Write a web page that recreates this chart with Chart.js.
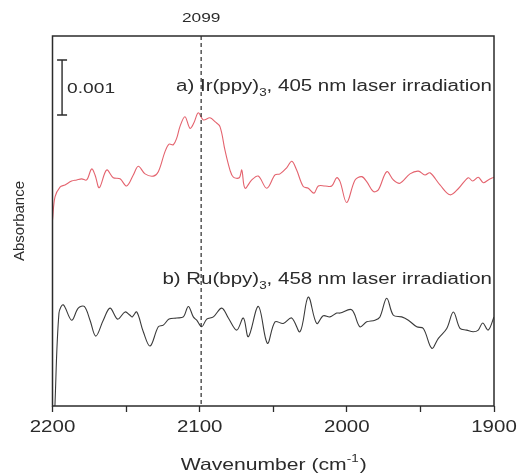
<!DOCTYPE html>
<html>
<head>
<meta charset="utf-8">
<script src="https://cdn.jsdelivr.net/npm/chart.js@4.4.0/dist/chart.umd.min.js"></script>
<style>
  html, body { margin: 0; padding: 0; background: #fff; }
  #wrap { width: 518px; height: 475px; }
</style>
</head>
<body>
<div id="wrap"><canvas id="irChart" width="518" height="475"></canvas></div>
<script>
// spectrum a) Ir(ppy)3, 405 nm  (absorbance in units of 0.001, offset stacked)
const redWavenumber = [2200, 2198.3, 2194.9, 2191.5, 2187.0, 2183.6, 2180.2, 2176.8, 2173.4, 2171.1, 2168.2, 2163.2, 2158.7, 2154.1, 2149.6, 2145.1, 2141.7, 2137.1, 2131.5, 2128.1, 2123.6, 2120.8, 2117.9, 2115.6, 2113.4, 2110.0, 2106.6, 2103.9, 2100.9, 2097.5, 2093.0, 2089.6, 2086.2, 2082.8, 2079.4, 2077.1, 2073.1, 2071.4, 2069.2, 2064.6, 2060.2, 2054.4, 2048.8, 2045.4, 2040.9, 2037.4, 2034.1, 2029.6, 2026.2, 2022.3, 2019.4, 2014.8, 2010.3, 2006.9, 2004.6, 2000.1, 1994.4, 1989.9, 1986.5, 1982.0, 1978.6, 1972.9, 1968.4, 1963.9, 1957.1, 1951.4, 1946.9, 1943.5, 1936.7, 1929.9, 1924.3, 1917.5, 1914.5, 1910.7, 1907.3, 1903.9, 1900];
const redAbs = [3.38, 3.80, 3.98, 4.02, 4.09, 4.11, 4.13, 4.11, 4.31, 4.20, 3.97, 4.29, 4.15, 4.13, 4.00, 4.20, 4.36, 4.22, 4.18, 4.26, 4.62, 4.76, 4.75, 4.87, 5.08, 5.26, 5.05, 5.15, 5.33, 5.20, 5.24, 5.17, 5.08, 4.65, 4.29, 4.16, 4.15, 4.29, 3.96, 4.11, 4.18, 3.96, 4.20, 4.22, 4.33, 4.45, 4.29, 3.99, 3.96, 3.87, 4.00, 4.00, 4.00, 4.15, 4.08, 3.70, 4.11, 4.17, 4.08, 3.90, 3.93, 4.26, 4.11, 4.05, 4.22, 4.27, 4.20, 4.24, 4.02, 3.84, 3.95, 4.15, 4.09, 4.16, 4.06, 4.11, 4.16];

// spectrum b) Ru(bpy)3, 458 nm
const blackWavenumber = [2198.5, 2195.6, 2192.7, 2187.0, 2182.5, 2178.4, 2174.5, 2170.6, 2165.5, 2160.9, 2155.7, 2150.7, 2147.3, 2145.8, 2142.8, 2138.3, 2133.7, 2128.1, 2124.7, 2120.8, 2115.6, 2111.1, 2107.7, 2104.3, 2102.0, 2098.6, 2095.2, 2090.7, 2085.0, 2080.5, 2074.8, 2070.3, 2066.9, 2060.1, 2054.0, 2048.8, 2043.2, 2037.5, 2031.8, 2026.2, 2020.5, 2016.0, 2011.5, 2006.9, 2004.6, 1996.7, 1991.1, 1986.5, 1980.9, 1977.5, 1972.9, 1968.4, 1962.7, 1958.2, 1952.5, 1948.0, 1942.3, 1937.8, 1932.1, 1927.6, 1923.1, 1918.6, 1914.1, 1910.7, 1907.7, 1903.9, 1900];
const blackAbs = [-0.1, 1.69, 1.84, 1.56, 1.78, 1.81, 1.56, 1.27, 1.56, 1.78, 1.58, 1.71, 1.65, 1.62, 1.71, 1.35, 1.09, 1.44, 1.47, 1.58, 1.60, 1.62, 1.81, 1.62, 1.56, 1.44, 1.58, 1.62, 1.78, 1.60, 1.38, 1.60, 1.26, 1.81, 1.14, 1.53, 1.50, 1.60, 1.35, 1.98, 1.50, 1.64, 1.62, 1.69, 1.69, 1.75, 1.44, 1.53, 1.56, 1.62, 1.96, 1.65, 1.62, 1.56, 1.44, 1.41, 1.05, 1.23, 1.41, 1.71, 1.41, 1.38, 1.35, 1.38, 1.51, 1.38, 1.62];

const xTickLabels = [2200, 2100, 2000, 1900];
const markerWavenumber = 2099;
const scaleBarLabel = '0.001';

const FONT = '"Liberation Sans", Arial, sans-serif';
const INK = '#2b2b2b';
const SX = 1.28; // the source figure's lettering is stretched sideways

const toPoints = (xs, ys) => xs.map((x, i) => ({ x: x, y: ys[i] }));

// write text stretched horizontally; align = 'left' | 'center' | 'right'
function wide(ctx, str, x, y, size, align) {
  ctx.font = size + 'px ' + FONT;
  const w = ctx.measureText(str).width * SX;
  let x0 = x;
  if (align === 'center') x0 = x - w / 2;
  if (align === 'right') x0 = x - w;
  ctx.save();
  ctx.translate(x0, y);
  ctx.scale(SX, 1);
  ctx.textAlign = 'left';
  ctx.textBaseline = 'middle';
  ctx.fillText(str, 0, 0);
  ctx.restore();
  return w;
}
function wideWidth(ctx, str, size) {
  ctx.font = size + 'px ' + FONT;
  return ctx.measureText(str).width * SX;
}

// frame, dashed marker line, scale bar, labels and the x axis lettering
const extras = {
  id: 'extras',
  afterDatasetsDraw(chart) {
    const { ctx, chartArea: a, scales: { x, y } } = chart;
    ctx.save();

    // box
    ctx.strokeStyle = INK;
    ctx.lineWidth = 1.5;
    ctx.strokeRect(a.left, a.top, a.right - a.left, a.bottom - a.top);

    // dashed line at 2099
    const mx = x.getPixelForValue(markerWavenumber);
    ctx.lineWidth = 1.2;
    ctx.setLineDash([4, 3]);
    ctx.beginPath();
    ctx.moveTo(mx, a.top);
    ctx.lineTo(mx, a.bottom);
    ctx.stroke();
    ctx.setLineDash([]);

    ctx.fillStyle = INK;
    wide(ctx, String(markerWavenumber), mx, 18, 13.5, 'center');

    // scale bar, 0.001 tall in data units
    const bx = x.getPixelForValue(2193.5);
    const y1 = y.getPixelForValue(6.29), y2 = y.getPixelForValue(5.29);
    ctx.lineWidth = 1.4;
    ctx.beginPath();
    ctx.moveTo(bx, y1); ctx.lineTo(bx, y2);
    ctx.moveTo(bx - 5, y1); ctx.lineTo(bx + 5, y1);
    ctx.moveTo(bx - 5, y2); ctx.lineTo(bx + 5, y2);
    ctx.stroke();
    wide(ctx, scaleBarLabel, bx + 5, (y1 + y2) / 2 + 1, 15, 'left');

    // labels with subscript 3, right aligned
    const label = (pre, post, yc) => {
      const w1 = wideWidth(ctx, pre, 16);
      const w2 = wideWidth(ctx, '3', 10.5);
      const w3 = wideWidth(ctx, post, 16);
      const xs = a.right - 2 - (w1 + w2 + w3);
      wide(ctx, pre, xs, yc, 16, 'left');
      wide(ctx, '3', xs + w1, yc + 6, 10.5, 'left');
      wide(ctx, post, xs + w1 + w2, yc, 16, 'left');
    };
    label('a) Ir(ppy)', ', 405 nm laser irradiation', 87);
    label('b) Ru(bpy)', ', 458 nm laser irradiation', 280);

    // x tick labels
    xTickLabels.forEach(v => wide(ctx, String(v), x.getPixelForValue(v), 428, 16, 'center'));

    // x title with superscript -1
    const cx = (a.left + a.right) / 2;
    const t1 = 'Wavenumber (cm', t2 = '-1', t3 = ')';
    const w1 = wideWidth(ctx, t1, 16.5), w2 = wideWidth(ctx, t2, 10.5), w3 = wideWidth(ctx, t3, 16.5);
    const tx = cx - (w1 + w2 + w3) / 2;
    wide(ctx, t1, tx, 465, 16.5, 'left');
    wide(ctx, t2, tx + w1, 459, 10.5, 'left');
    wide(ctx, t3, tx + w1 + w2 + 1, 465, 16.5, 'left');

    ctx.restore();
  }
};

new Chart(document.getElementById('irChart'), {
  type: 'line',
  data: {
    datasets: [
      {
        label: 'a) Ir(ppy)3, 405 nm',
        data: toPoints(redWavenumber, redAbs),
        borderColor: '#e4636e',
        borderWidth: 1.1,
        pointRadius: 0,
        tension: 0.35
      },
      {
        label: 'b) Ru(bpy)3, 458 nm',
        data: toPoints(blackWavenumber, blackAbs),
        borderColor: '#3a3a3a',
        borderWidth: 1.1,
        pointRadius: 0,
        tension: 0.35
      }
    ]
  },
  options: {
    responsive: false,
    animation: false,
    layout: { padding: { top: 36, right: 24, left: 0, bottom: 0 } },
    plugins: { legend: { display: false }, tooltip: { enabled: false } },
    scales: {
      x: {
        type: 'linear',
        reverse: true,
        min: 1900,
        max: 2200,
        afterFit(s) { s.height = 69; },
        grid: { display: true, drawOnChartArea: false, drawTicks: true, tickLength: 6, tickColor: INK, tickWidth: 1.3 },
        border: { display: false },
        ticks: { display: false, stepSize: 50, autoSkip: false }
      },
      y: {
        min: 0,
        max: 6.727,
        afterFit(s) { s.width = 52.5; },
        grid: { display: false },
        border: { display: false },
        ticks: { display: false },
        title: {
          display: true,
          text: 'Absorbance',
          color: INK,
          font: { family: FONT, size: 15 },
          padding: { top: 11, bottom: 0 }
        }
      }
    }
  },
  plugins: [extras]
});
</script>
</body>
</html>
